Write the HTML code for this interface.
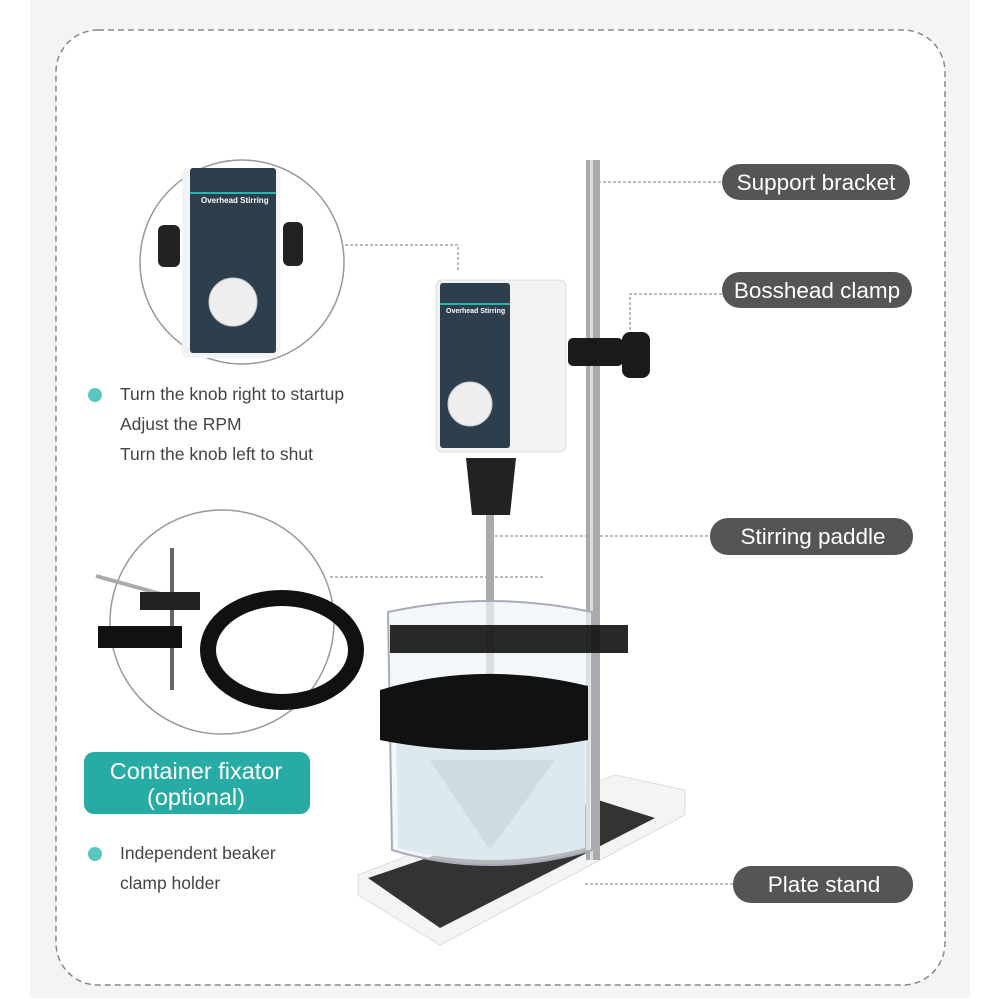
<!DOCTYPE html>
<html><head><meta charset="utf-8"><style>
html,body{margin:0;padding:0;background:#fff}
svg{display:block}
text{font-family:"Liberation Sans",sans-serif}
</style></head><body>
<svg width="1000" height="1000" viewBox="0 0 1000 1000">
<rect x="30" y="0" width="940" height="998" fill="#f4f4f6"/>
<rect x="56" y="30" width="889" height="955" rx="42" fill="#fff" stroke="#888" stroke-width="1.5" stroke-dasharray="6 4"/>

<g stroke="#777" stroke-width="1" stroke-dasharray="3 2" fill="none">
<path d="M598 182 H722"/>
<path d="M630 330 V294 H722"/>
<path d="M495 536 H710"/>
<path d="M585 884 H733"/>
<path d="M340 245 H458 V270"/>
<path d="M330 577 H545"/>
</g>

<circle cx="242" cy="262" r="102" fill="#fff" stroke="#999" stroke-width="1.5"/>
<rect x="182" y="168" width="98" height="190" rx="6" fill="#f3f3f3"/>
<rect x="190" y="168" width="86" height="185" rx="3" fill="#2d3e4c"/>
<rect x="190" y="192" width="86" height="2" fill="#2bb3ad"/>
<text x="201" y="203" font-size="8" fill="#fff" font-weight="bold">Overhead Stirring</text>
<circle cx="233" cy="302" r="24" fill="#eee" stroke="#ccc"/>
<rect x="158" y="225" width="22" height="42" rx="6" fill="#222"/>
<rect x="283" y="222" width="20" height="44" rx="6" fill="#222"/>

<circle cx="95" cy="395" r="7" fill="#3cbcb4" opacity=".85"/>
<text x="120" y="400" font-size="17.5" fill="#444">Turn the knob right to startup</text>
<text x="120" y="430" font-size="17.5" fill="#444">Adjust the RPM</text>
<text x="120" y="460" font-size="17.5" fill="#444">Turn the knob left to shut</text>

<circle cx="222" cy="622" r="112" fill="#fff" stroke="#999" stroke-width="1.5"/>
<line x1="96" y1="576" x2="190" y2="602" stroke="#aaa" stroke-width="4"/>
<line x1="172" y1="548" x2="172" y2="690" stroke="#666" stroke-width="4"/>
<rect x="98" y="626" width="84" height="22" fill="#111"/>
<ellipse cx="282" cy="650" rx="74" ry="52" fill="none" stroke="#111" stroke-width="16"/>
<rect x="140" y="592" width="60" height="18" fill="#222"/>

<rect x="84" y="752" width="226" height="62" rx="10" fill="#27aba5"/>
<text x="196" y="779" font-size="23.5" fill="#fff" text-anchor="middle">Container fixator</text>
<text x="196" y="805" font-size="23.5" fill="#fff" text-anchor="middle">(optional)</text>
<circle cx="95" cy="854" r="7" fill="#3cbcb4" opacity=".85"/>
<text x="120" y="859" font-size="17.5" fill="#444">Independent beaker</text>
<text x="120" y="889" font-size="17.5" fill="#444">clamp holder</text>

<polygon points="358,875 615,775 685,790 685,815 440,945 358,895" fill="#f4f4f4" stroke="#ddd"/>
<polygon points="368,878 598,800 655,818 440,928" fill="#333"/>
<rect x="586" y="160" width="14" height="700" fill="#aaa"/>
<rect x="590" y="160" width="3" height="700" fill="#ddd"/>
<rect x="568" y="338" width="55" height="28" rx="5" fill="#1a1a1a"/>
<rect x="622" y="332" width="28" height="46" rx="8" fill="#1a1a1a"/>
<rect x="436" y="280" width="130" height="172" rx="6" fill="#f2f2f2" stroke="#ddd"/>
<rect x="440" y="283" width="70" height="165" rx="3" fill="#2d3e4c"/>
<rect x="440" y="303" width="70" height="2" fill="#2bb3ad"/>
<text x="446" y="313" font-size="7" fill="#fff" font-weight="bold">Overhead Stirring</text>
<circle cx="470" cy="404" r="22" fill="#eee" stroke="#ccc"/>
<path d="M466 458 H516 L510 515 H472 Z" fill="#222"/>
<rect x="486" y="515" width="8" height="330" fill="#aaa"/>
<path d="M388 612 Q490 590 592 612 V850 Q490 880 392 850 Z" fill="#eef4f7" fill-opacity=".7" stroke="#aab" stroke-width="2"/>
<path d="M396 720 Q490 705 585 720 V848 Q490 872 398 848 Z" fill="#dde9ee"/>
<rect x="390" y="625" width="238" height="28" fill="#111" opacity=".9"/>
<path d="M380 690 Q480 660 588 686 V740 Q480 760 380 740 Z" fill="#111"/>
<polygon points="430,760 555,760 490,850" fill="#c7d4da" opacity=".7"/>

<rect x="722" y="164" width="188" height="36" rx="18" fill="#555"/>
<text x="816" y="190" font-size="22.5" fill="#fff" text-anchor="middle">Support bracket</text>
<rect x="722" y="272" width="190" height="36" rx="18" fill="#555"/>
<text x="817" y="298" font-size="22.5" fill="#fff" text-anchor="middle">Bosshead clamp</text>
<rect x="710" y="518" width="203" height="37" rx="18" fill="#555"/>
<text x="813" y="544" font-size="22.5" fill="#fff" text-anchor="middle">Stirring paddle</text>
<rect x="733" y="866" width="180" height="37" rx="18" fill="#555"/>
<text x="824" y="892" font-size="22.5" fill="#fff" text-anchor="middle">Plate stand</text>
</svg>
</body></html>
